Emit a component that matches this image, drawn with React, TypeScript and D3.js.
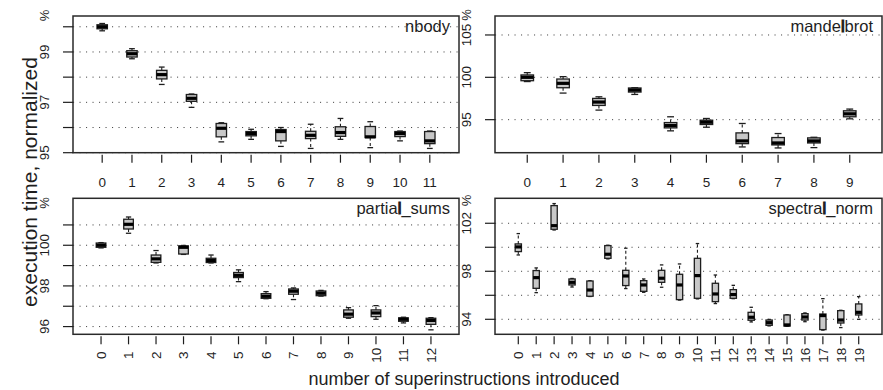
import React from "react";
import * as d3 from "d3";

// ---- data: [lower whisker, Q1, median, Q3, upper whisker] ----
const nbodyCats = ["0","1","2","3","4","5","6","7","8","9","10","11"];
const nbodyStats = [
  [99.84, 99.92, 100.0, 100.08, 100.13],
  [98.73, 98.8, 98.93, 99.05, 99.13],
  [97.71, 97.93, 98.1, 98.27, 98.4],
  [96.8, 97.04, 97.16, 97.31, 97.33],
  [95.43, 95.63, 95.97, 96.16, 96.19],
  [95.53, 95.67, 95.76, 95.84, 95.93],
  [95.25, 95.47, 95.84, 95.92, 96.0],
  [95.17, 95.56, 95.69, 95.85, 96.13],
  [95.53, 95.65, 95.8, 96.03, 96.36],
  [95.2, 95.6, 95.63, 96.04, 96.23],
  [95.47, 95.64, 95.76, 95.84, 95.86],
  [95.17, 95.36, 95.47, 95.84, 95.86],
];
const nbodyTicks = [95, 96, 97, 98, 99, 100];
const nbodyTickLabels = [95, 97, 99];

const mandelCats = ["0","1","2","3","4","5","6","7","8","9"];
const mandelStats = [
  [99.5, 99.6, 100.0, 100.28, 100.55],
  [98.14, 98.77, 99.29, 99.8, 100.08],
  [96.13, 96.68, 97.08, 97.51, 97.7],
  [97.98, 98.26, 98.5, 98.74, 98.77],
  [93.68, 94.03, 94.31, 94.66, 95.34],
  [94.11, 94.43, 94.7, 94.94, 95.14],
  [91.78, 92.17, 92.49, 93.44, 94.55],
  [91.66, 92.02, 92.25, 92.89, 93.36],
  [91.7, 92.25, 92.49, 92.85, 92.92],
  [95.1, 95.34, 95.69, 96.05, 96.25],
];
const mandelTicks = [95, 100, 105];
const mandelTickLabels = [95, 100, 105];

const partialCats = ["0","1","2","3","4","5","6","7","8","9","10","11","12"];
const partialStats = [
  [99.87, 99.9, 100.0, 100.11, 100.13],
  [100.59, 100.8, 101.03, 101.28, 101.39],
  [99.13, 99.16, 99.33, 99.52, 99.74],
  [99.55, 99.57, 99.9, 99.97, 99.99],
  [99.13, 99.15, 99.25, 99.36, 99.52],
  [98.21, 98.41, 98.52, 98.66, 98.79],
  [97.37, 97.39, 97.49, 97.62, 97.72],
  [97.33, 97.59, 97.74, 97.85, 97.9],
  [97.5, 97.52, 97.64, 97.75, 97.78],
  [96.41, 96.46, 96.61, 96.82, 96.93],
  [96.36, 96.49, 96.67, 96.82, 97.03],
  [96.18, 96.26, 96.36, 96.43, 96.46],
  [95.84, 96.11, 96.3, 96.41, 96.44],
];
const partialTicks = [96, 97, 98, 99, 100, 101];
const partialTickLabels = [96, 98, 100];

const spectralCats = ["0","1","2","3","4","5","6","7","8","9","10","11","12","13","14","15","16","17","18","19"];
const spectralStats = [
  [99.36, 99.64, 100.03, 100.28, 101.14],
  [96.22, 96.58, 97.47, 98.06, 98.28],
  [101.44, 101.5, 101.8, 103.47, 103.64],
  [96.69, 96.86, 97.08, 97.36, 97.4],
  [95.9, 95.92, 96.44, 97.19, 97.22],
  [99.03, 99.08, 99.42, 100.14, 100.17],
  [96.56, 96.81, 97.61, 98.08, 99.92],
  [96.25, 96.33, 96.86, 97.22, 97.36],
  [96.67, 97.08, 97.42, 98.08, 98.53],
  [95.6, 95.64, 96.86, 97.75, 98.61],
  [95.7, 95.75, 97.64, 99.08, 100.31],
  [95.31, 95.47, 96.11, 97.0, 97.69],
  [95.72, 95.75, 96.06, 96.47, 96.83],
  [93.78, 93.92, 94.17, 94.58, 95.0],
  [93.45, 93.5, 93.72, 93.94, 93.99],
  [93.42, 93.44, 93.53, 94.36, 94.38],
  [93.8, 93.94, 94.19, 94.47, 94.53],
  [93.1, 93.14, 94.31, 94.44, 95.72],
  [93.31, 93.69, 93.94, 94.72, 94.75],
  [94.0, 94.36, 94.58, 95.28, 95.89],
];
const spectralTicks = [94, 96, 98, 100, 102];
const spectralTickLabels = [94, 98, 102];

const yTitle = "execution time, normalized";
const xTitle = "number of superinstructions introduced";

// ---- layout ----
const W = 883, H = 390;
const FONT = "'Liberation Sans', Arial, Helvetica, sans-serif";
const INK = "#1e1e1e";

type PanelCfg = {
  name: string;
  cats: string[];
  stats: number[][];
  ticks: number[];
  tickLabels: number[];
  yDomain: [number, number];
  left: number; right: number; top: number; bottom: number;
  rotateX: boolean;
  pctY: number;
};

const panels: PanelCfg[] = [
  { name: "nbody", cats: nbodyCats, stats: nbodyStats, ticks: nbodyTicks, tickLabels: nbodyTickLabels,
    yDomain: [95, 100.428], left: 73, right: 459, top: 16, bottom: 152.7, rotateX: false, pctY: 15.5 },
  { name: "mandelbrot", cats: mandelCats, stats: mandelStats, ticks: mandelTicks, tickLabels: mandelTickLabels,
    yDomain: [91.1, 107.24], left: 495, right: 882, top: 16, bottom: 152.7, rotateX: false, pctY: 15 },
  { name: "partial_sums", cats: partialCats, stats: partialStats, ticks: partialTicks, tickLabels: partialTickLabels,
    yDomain: [95.62, 102.31], left: 73, right: 459, top: 198.3, bottom: 334.3, rotateX: true, pctY: 203 },
  { name: "spectral_norm", cats: spectralCats, stats: spectralStats, ticks: spectralTicks, tickLabels: spectralTickLabels,
    yDomain: [92.75, 104.08], left: 495, right: 882, top: 198.3, bottom: 334.3, rotateX: true, pctY: 200.5 },
];

function Title({ text, x, y }: { text: string; x: number; y: number }) {
  const parts = text.split(/(l)/);
  return (
    <text x={x} y={y} textAnchor="end" fontSize={16.5} fontFamily={FONT} fill={INK}>
      {parts.map((p, i) =>
        p === "l" ? (
          <tspan key={i} stroke={INK} strokeWidth={1.1}>{p}</tspan>
        ) : (
          <tspan key={i}>{p}</tspan>
        )
      )}
    </text>
  );
}

function Panel({ cfg }: { cfg: PanelCfg }) {
  const n = cfg.cats.length;
  const ext = 0.04 * n;
  const x = d3.scaleLinear().domain([0.5 - ext, n + 0.5 + ext]).range([cfg.left, cfg.right]);
  const y = d3.scaleLinear().domain(cfg.yDomain).range([cfg.bottom, cfg.top]);
  const unit = x(2) - x(1);
  const bw = unit * 0.35;
  const sw = bw * 0.55;

  return (
    <g>
      {cfg.ticks.map((t) => (
        <line key={"g" + t} x1={cfg.left} x2={cfg.right} y1={y(t)} y2={y(t)}
          stroke="#333" strokeWidth={0.9} strokeDasharray="1.1,5.4" />
      ))}
      {cfg.stats.map((s, i) => {
        const cx = x(i + 1);
        const [lo, q1, med, q3, hi] = s;
        return (
          <g key={"b" + i}>
            <line x1={cx} x2={cx} y1={y(q3)} y2={y(hi)} stroke={INK} strokeWidth={1.1} strokeDasharray="3,2.5" />
            <line x1={cx} x2={cx} y1={y(q1)} y2={y(lo)} stroke={INK} strokeWidth={1.1} strokeDasharray="3,2.5" />
            <line x1={cx - sw / 2} x2={cx + sw / 2} y1={y(hi)} y2={y(hi)} stroke={INK} strokeWidth={1.3} />
            <line x1={cx - sw / 2} x2={cx + sw / 2} y1={y(lo)} y2={y(lo)} stroke={INK} strokeWidth={1.3} />
            <rect x={cx - bw / 2} y={y(q3)} width={bw} height={Math.max(0.5, y(q1) - y(q3))}
              fill="#c8c8c8" stroke={INK} strokeWidth={1.3} />
            <line x1={cx - bw / 2} x2={cx + bw / 2} y1={y(med)} y2={y(med)} stroke="#000" strokeWidth={3.2} />
          </g>
        );
      })}
      <rect x={cfg.left} y={cfg.top} width={cfg.right - cfg.left} height={cfg.bottom - cfg.top}
        fill="none" stroke="#2a2a2a" strokeWidth={1.5} />
      {cfg.ticks.map((t) => (
        <line key={"yt" + t} x1={cfg.left - 10} x2={cfg.left} y1={y(t)} y2={y(t)} stroke={INK} strokeWidth={1.2} />
      ))}
      {cfg.tickLabels.map((t) => (
        <text key={"yl" + t} transform={`translate(${cfg.left - 24},${y(t)}) rotate(-90)`}
          textAnchor="middle" fontSize={13.5} fontFamily={FONT} fill={INK}>{t}</text>
      ))}
      <text transform={`translate(${cfg.left - 24},${cfg.pctY}) rotate(-90)`}
        textAnchor="middle" fontSize={13} fontFamily={FONT} fill={INK}>%</text>
      {cfg.cats.map((c, i) => (
        <line key={"xt" + i} x1={x(i + 1)} x2={x(i + 1)} y1={cfg.bottom + 2} y2={cfg.bottom + 10}
          stroke={INK} strokeWidth={1.2} />
      ))}
      {cfg.cats.map((c, i) =>
        cfg.rotateX ? (
          <text key={"xl" + i} transform={`translate(${x(i + 1) + 4.8},${cfg.bottom + 21}) rotate(-90)`}
            textAnchor="middle" fontSize={13.5} fontFamily={FONT} fill={INK}>{c}</text>
        ) : (
          <text key={"xl" + i} x={x(i + 1)} y={cfg.bottom + 34} textAnchor="middle"
            fontSize={13.5} fontFamily={FONT} fill={INK}>{c}</text>
        )
      )}
      <Title text={cfg.name} x={cfg.right - 9} y={cfg.top + 15.5} />
    </g>
  );
}

export default function App() {
  return (
    <svg width={W} height={H} style={{ position: "absolute", left: 0, top: 0, background: "#fff" }}>
      <rect x={0} y={0} width={W} height={H} fill="#fff" />
      {panels.map((p) => (
        <Panel key={p.name} cfg={p} />
      ))}
      <text transform={`translate(37,182) rotate(-90)`} textAnchor="middle" fontSize={21}
        fontFamily={FONT} fill={INK}>{yTitle}</text>
      <text x={464} y={385} textAnchor="middle" fontSize={18} fontFamily={FONT} fill={INK}>{xTitle}</text>
    </svg>
  );
}
